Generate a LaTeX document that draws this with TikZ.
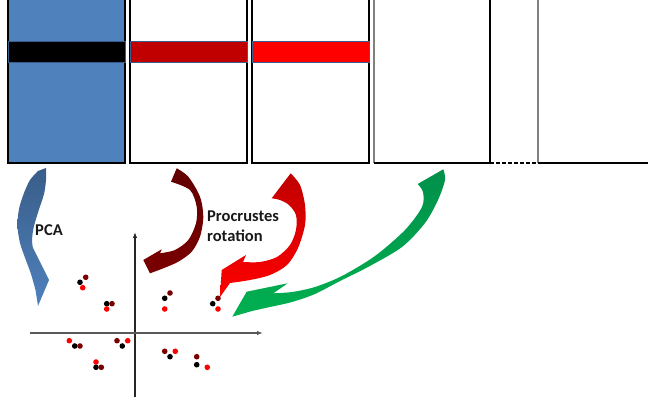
\documentclass[tikz,border=0pt]{standalone}
\usepackage{fontspec}
\setmainfont{Carlito}
\newfontfamily\lblfont{Carlito Bold}
\usetikzlibrary{arrows.meta}
\definecolor{boxblue}{HTML}{4F81BD}
\definecolor{bandline}{HTML}{385D8A}
\definecolor{dkred}{HTML}{C00000}
\definecolor{maroon}{HTML}{7A0000}
\definecolor{grayline}{HTML}{808080}
\definecolor{axisgray}{HTML}{595959}
\definecolor{gdark}{HTML}{00904A}
\definecolor{glight}{HTML}{00B050}
\tikzset{
  boxline/.style={line width=1.1pt, black},
  grayedge/.style={line width=1.1pt, grayline},
  band/.style={line width=1pt, draw=bandline},
  axis/.style={line width=1.2pt, -{Latex[length=6pt,width=4.5pt]}},
  dotk/.style={fill=black},
  dotm/.style={fill=maroon},
  dotr/.style={fill=red},
  lbl/.style={font=\lblfont\fontsize{16.5}{20}\selectfont, text=black!90, inner sep=0pt},
  bluearrow/.style={top color=boxblue!72!black, bottom color=boxblue},
  maroonarrow/.style={top color=maroon!80!black, bottom color=maroon},
  redarrow/.style={top color=dkred, bottom color=red},
  greenarrow/.style={top color=gdark, bottom color=glight},
}
\begin{document}
\begin{tikzpicture}[x=1pt,y=-1pt]
\useasboundingbox (0,0) rectangle (648,403);
% boxes
\fill[boxblue] (8,-5) rectangle (125,163);
\draw[boxline] (8,-5) -- (8,163) -- (125,163) -- (125,-5);
\draw[boxline] (130,-5) -- (130,163) -- (247,163) -- (247,-5);
\draw[boxline] (252,-5) -- (252,163) -- (369,163) -- (369,-5);
\draw[grayedge] (374,-5) -- (374,163);
\draw[boxline] (374,163) -- (490,163);
\draw[boxline] (490,-5) -- (490,163);
\draw[boxline, dash pattern=on 4pt off 2pt] (490,163) -- (538,163);
\draw[grayedge] (538,-5) -- (538,163);
\draw[boxline] (538,163) -- (652,163);
% bands
\filldraw[band, fill=black] (8,42) rectangle (125,63);
\filldraw[band, fill=dkred] (130,42) rectangle (247,63);
\filldraw[band, fill=red] (252,42) rectangle (369,63);
% arrows
\path[bluearrow] (46,168) -- plot[smooth] coordinates {(46,168) (46,180) (44,194) (38.5,211) (33.5,228) (32,241) (33,248)}
  -- (49,280) -- (38,306) -- (35.5,290)
  -- plot[smooth] coordinates {(35.5,290) (31,274) (25.5,259) (20,243) (17.5,226) (19,209) (24,193) (30,180) (38,171)} -- cycle;
\path[maroonarrow] (176.7,168.3) -- plot[smooth] coordinates {(176.7,168.3) (188.3,176.7) (200,196.7) (203.3,216.7) (200,236.7) (191.7,251.7) (178.3,261.7) (163.3,268.3) (150,273.3)}
  -- (143.3,260) -- (161.7,249.3) -- (160,253.3)
  -- plot[smooth] coordinates {(160,253.3) (175,250) (188.3,240) (196,223.3) (196.7,206.7) (190,190) (171,181.7)} -- cycle;
\path[redarrow] (290.7,173.3) -- plot[smooth] coordinates {(290.7,173.3) (300,185) (305,205) (305,225) (298,248) (287,265) (270,275) (250,280) (230,283)}
  -- (220,297) -- (221.7,270) -- (246,255) -- (243,262)
  -- plot[smooth] coordinates {(243,262) (260,262) (277,257) (290,245) (296,230) (296,215) (289,205) (280,200) (271.7,198.3)} -- cycle;
\path[greenarrow] (443.3,169.3) -- plot[smooth] coordinates {(443.3,169.3) (445,180) (438,200) (425,223) (402,247) (368,267) (340,281) (315,294) (292,302) (270,307) (252,311)}
  -- (232.3,316.7) -- (246.7,291.7) -- (287.7,283.3) -- (273.3,293.3)
  -- plot[smooth] coordinates {(273.3,293.3) (292,292) (315,287) (342,276) (375,256) (405,230) (422,207) (423,192) (417.7,184)} -- cycle;
% labels
\node[lbl] (pca) at (49,230) {PCA};
\node[lbl, anchor=west, align=left] (proc) at (207,226) {Procrustes\\rotation};
% axes
\coordinate (yb) at (135,397); \coordinate (yt) at (135,232);
\coordinate (xl) at (30,333); \coordinate (xr) at (263,333);
\draw[axis, black!85] (yb) -- (yt);
\draw[axis, axisgray] (xl) -- (xr);
% dots
\def\rr{2.8}
\fill[dotm] (85.7,277.3) circle (\rr); \fill[dotk] (80,282.3) circle (\rr); \fill[dotr] (82.7,287.7) circle (\rr);
\fill[dotk] (106.7,303.7) circle (\rr); \fill[dotm] (112,303.7) circle (\rr); \fill[dotr] (106.7,309) circle (\rr);
\fill[dotm] (170,293) circle (\rr); \fill[dotk] (164.7,298.3) circle (\rr); \fill[dotr] (164.7,309) circle (\rr);
\fill[dotm] (218,298.3) circle (\rr); \fill[dotk] (212.7,303.7) circle (\rr); \fill[dotr] (218,309) circle (\rr);
\fill[dotr] (69.3,340.7) circle (\rr); \fill[dotk] (74.7,346) circle (\rr); \fill[dotm] (80,346) circle (\rr);
\fill[dotm] (117,340.7) circle (\rr); \fill[dotr] (127.7,340.7) circle (\rr); \fill[dotk] (122.3,346) circle (\rr);
\fill[dotr] (96,362) circle (\rr); \fill[dotk] (96,367.3) circle (\rr); \fill[dotm] (101.3,367.3) circle (\rr);
\fill[dotm] (164.7,351.3) circle (\rr); \fill[dotr] (175.3,351.3) circle (\rr); \fill[dotk] (170,356.7) circle (\rr);
\fill[dotm] (196.7,356.7) circle (\rr); \fill[dotk] (196.7,364.7) circle (\rr); \fill[dotr] (207.3,367.3) circle (\rr);
\end{tikzpicture}
\end{document}
